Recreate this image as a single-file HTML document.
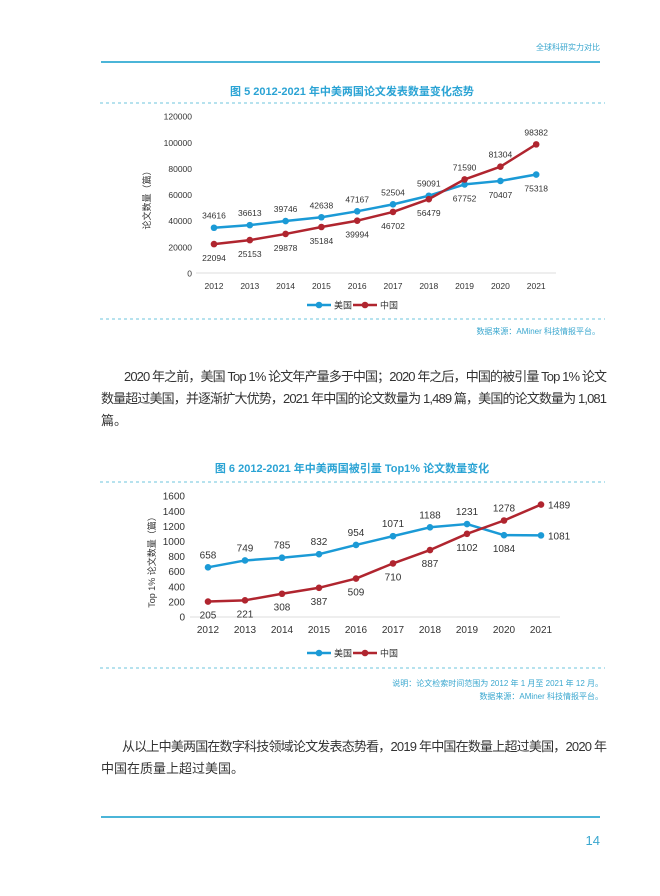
<!DOCTYPE html>
<html><head><meta charset="utf-8">
<style>
html,body{margin:0;padding:0;background:#fff;}
svg{display:block;}
text{font-family:"Liberation Sans","Noto Sans CJK SC",sans-serif;}
</style></head>
<body>
<svg id="s" width="660" height="896" viewBox="0 0 660 896" xmlns="http://www.w3.org/2000/svg">
<text x="600" y="50" font-size="8" fill="#3aa7cf" text-anchor="end">全球科研实力对比</text>
<line x1="101" y1="62" x2="600" y2="62" stroke="#4bb5d8" stroke-width="2"/>
<text x="352" y="95" font-size="11" font-weight="bold" fill="#2aa3d4" text-anchor="middle">图 5 2012-2021 年中美两国论文发表数量变化态势</text>
<line x1="100" y1="103" x2="605" y2="103" stroke="#6cc4dc" stroke-width="1" stroke-dasharray="3,3"/>
<line x1="100" y1="319" x2="605" y2="319" stroke="#6cc4dc" stroke-width="1" stroke-dasharray="3,3"/>
<text x="600" y="334" font-size="8" fill="#3aa7cf" text-anchor="end">数据来源：AMiner 科技情报平台。</text>

<g font-size="13" fill="#333">
<text x="124" y="381" textLength="483" lengthAdjust="spacing">2020 年之前，美国 Top 1% 论文年产量多于中国；2020 年之后，中国的被引量 Top 1% 论文</text>
<text x="101" y="403" textLength="506" lengthAdjust="spacing">数量超过美国，并逐渐扩大优势，2021 年中国的论文数量为 1,489 篇，美国的论文数量为 1,081</text>
<text x="101" y="425">篇。</text>
</g>

<text x="352" y="472" font-size="11" font-weight="bold" fill="#2aa3d4" text-anchor="middle">图 6 2012-2021 年中美两国被引量 Top1% 论文数量变化</text>
<line x1="100" y1="482" x2="605" y2="482" stroke="#6cc4dc" stroke-width="1" stroke-dasharray="3,3"/>
<line x1="100" y1="668" x2="605" y2="668" stroke="#6cc4dc" stroke-width="1" stroke-dasharray="3,3"/>
<text x="603" y="686" font-size="8" fill="#3aa7cf" text-anchor="end">说明：论文检索时间范围为 2012 年 1 月至 2021 年 12 月。</text>
<text x="603" y="699" font-size="8" fill="#3aa7cf" text-anchor="end">数据来源：AMiner 科技情报平台。</text>

<g font-size="13" fill="#333">
<text x="122" y="751" textLength="485" lengthAdjust="spacing">从以上中美两国在数字科技领域论文发表态势看，2019 年中国在数量上超过美国，2020 年</text>
<text x="101" y="773">中国在质量上超过美国。</text>
</g>
<line x1="101" y1="817" x2="600" y2="817" stroke="#4bb5d8" stroke-width="2"/>
<text x="600" y="845" font-size="13" fill="#3aa7cf" text-anchor="end">14</text>
<g id="c"></g>
</svg>
<script>
var NS="http://www.w3.org/2000/svg",g=document.getElementById('c');
function el(t,a,txt){var e=document.createElementNS(NS,t);for(var k in a)e.setAttribute(k,a[k]);if(txt!=null)e.textContent=txt;g.appendChild(e);return e;}
var BLUE="#1b9ad6",RED="#b0252f";
function chart(o){
 var yOf=function(v){return o.y0-(v/o.step)*o.ystepPx;};
 el('line',{x1:o.bx1,y1:o.y0,x2:o.bx2,y2:o.y0,stroke:'#ddd','stroke-width':1});
 for(var i=0;i<=o.nt;i++){var v=i*o.step;el('text',{x:o.tx,y:yOf(v)+3.5,'font-size':o.tfs,fill:'#333','text-anchor':'end'},String(v));}
 for(var j=0;j<10;j++){el('text',{x:o.x0+j*o.dx,y:o.y0+o.xly,'font-size':o.xfs,fill:'#333','text-anchor':'middle'},String(2012+j));}
 el('text',{x:0,y:0,'font-size':9,fill:'#333','text-anchor':'middle',transform:'translate('+o.ylx+','+o.yly+') rotate(-90)'},o.ylab);
 [[o.us,BLUE,o.usPos],[o.cn,RED,o.cnPos]].forEach(function(s){
  var pts=s[0].map(function(v,j){return [o.x0+j*o.dx,yOf(v)];});
  el('polyline',{points:pts.map(function(p){return p.join(',');}).join(' '),fill:'none',stroke:s[1],'stroke-width':2.5,'stroke-linejoin':'round'});
  pts.forEach(function(p,j){el('circle',{cx:p[0],cy:p[1],r:3.3,fill:s[1]});
   var pos=s[2][j],x=p[0],y=p[1],a='middle';
   if(pos=='a')y-=9;else if(pos=='b')y+=17;else{x+=7;y+=4;a='start';}
   el('text',{x:x,y:y,'font-size':o.lfs,fill:'#333','text-anchor':a},String(s[0][j]));});
 });
 var ly=o.legY,lx=o.legX;
 el('line',{x1:lx,y1:ly,x2:lx+24,y2:ly,stroke:BLUE,'stroke-width':2.5});el('circle',{cx:lx+12,cy:ly,r:3.3,fill:BLUE});
 el('text',{x:lx+27,y:ly+3.5,'font-size':9,fill:'#333'},'美国');
 el('line',{x1:lx+46,y1:ly,x2:lx+70,y2:ly,stroke:RED,'stroke-width':2.5});el('circle',{cx:lx+58,cy:ly,r:3.3,fill:RED});
 el('text',{x:lx+73,y:ly+3.5,'font-size':9,fill:'#333'},'中国');
}
chart({y0:273,step:20000,ystepPx:26.15,nt:6,tx:192,tfs:8.5,x0:214,dx:35.8,xly:16,xfs:8.5,bx1:196,bx2:556,
 ylx:150,yly:198,ylab:'论文数量（篇）',lfs:8.5,
 us:[34616,36613,39746,42638,47167,52504,59091,67752,70407,75318],
 cn:[22094,25153,29878,35184,39994,46702,56479,71590,81304,98382],
 usPos:['a','a','a','a','a','a','a','b','b','b'],cnPos:['b','b','b','b','b','b','b','a','a','a'],
 legX:307,legY:305});
chart({y0:617,step:200,ystepPx:15.1,nt:8,tx:185,tfs:10,x0:208,dx:37,xly:16,xfs:10,bx1:190,bx2:560,
 ylx:155,yly:560,ylab:'Top 1% 论文数量（篇）',lfs:10,
 us:[658,749,785,832,954,1071,1188,1231,1084,1081],
 cn:[205,221,308,387,509,710,887,1102,1278,1489],
 usPos:['a','a','a','a','a','a','a','a','b','r'],cnPos:['b','b','b','b','b','b','b','b','a','r'],
 legX:307,legY:653});
</script>
</body></html>
